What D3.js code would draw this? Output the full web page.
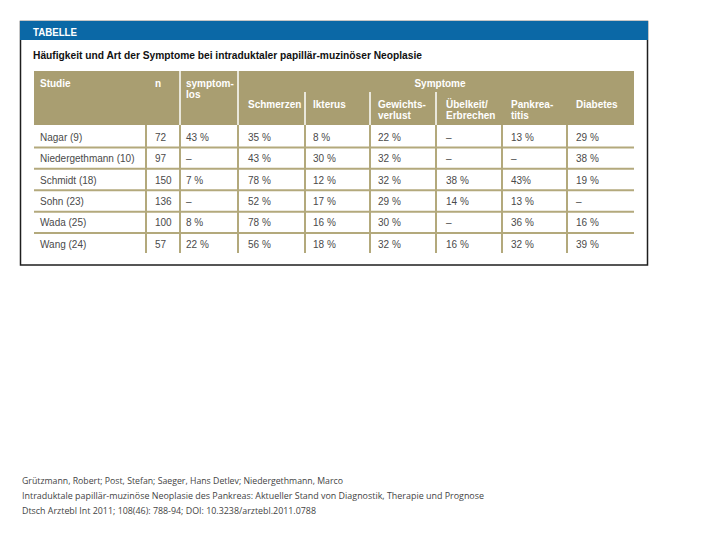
<!DOCTYPE html>
<html><head><meta charset="utf-8">
<script src="https://cdn.jsdelivr.net/npm/d3@7/dist/d3.min.js"></script>
<style>html,body{margin:0;padding:0;background:#fff;}svg{display:block;}</style>
</head><body>
<script>
// ---- data ----
const studies = ["Nagar (9)", "Niedergethmann (10)", "Schmidt (18)", "Sohn (23)", "Wada (25)", "Wang (24)"];
const nValues = [72, 97, 150, 136, 100, 57];
const symptomlos = ["43 %", "–", "7 %", "–", "8 %", "22 %"];
const schmerzen = ["35 %", "43 %", "78 %", "52 %", "78 %", "56 %"];
const ikterus = ["8 %", "30 %", "12 %", "17 %", "16 %", "18 %"];
const gewichtsverlust = ["22 %", "32 %", "32 %", "29 %", "30 %", "32 %"];
const uebelkeit = ["–", "–", "38 %", "14 %", "–", "16 %"];
const pankreatitis = ["13 %", "–", "43%", "13 %", "36 %", "32 %"];
const diabetes = ["29 %", "38 %", "19 %", "–", "16 %", "39 %"];
const symptomHeaders = [["Schmerzen"], ["Ikterus"], ["Gewichts-", "verlust"], ["Übelkeit/", "Erbrechen"], ["Pankrea-", "titis"], ["Diabetes"]];
const labelTabelle = "TABELLE";
const titleText = "Häufigkeit und Art der Symptome bei intraduktaler papillär-muzinöser Neoplasie";
const footerLines = [
  "Grützmann, Robert; Post, Stefan; Saeger, Hans Detlev; Niedergethmann, Marco",
  "Intraduktale papillär-muzinöse Neoplasie des Pankreas: Aktueller Stand von Diagnostik, Therapie und Prognose",
  "Dtsch Arztebl Int 2011; 108(46): 788-94; DOI: 10.3238/arztebl.2011.0788"
];

// ---- layout ----
const W = 720, H = 540;
const blue = "#0b68a6", tan = "#a99e71", lineTan = "#b3a97c", textGrey = "#4a4a4a";
const svg = d3.select("body").append("svg").attr("width", W).attr("height", H);
const font = "'Liberation Sans', Arial, sans-serif";

// outer box
svg.append("rect").attr("x", 20.5).attr("y", 21.5).attr("width", 627).attr("height", 243.5)
  .attr("fill", "#fff").attr("stroke", "#1e1e1e").attr("stroke-width", 1.5);
svg.append("rect").attr("x", 20).attr("y", 21).attr("width", 628).attr("height", 19).attr("fill", blue);
svg.append("text").attr("x", 33).attr("y", 35.5).attr("fill", "#fff")
  .attr("font-family", font).attr("font-weight", "bold").attr("font-size", 11)
  .attr("textLength", 44).attr("lengthAdjust", "spacingAndGlyphs").text(labelTabelle);
svg.append("text").attr("x", 33).attr("y", 59).attr("fill", "#111")
  .attr("font-family", font).attr("font-weight", "bold").attr("font-size", 11)
  .attr("textLength", 389).attr("lengthAdjust", "spacingAndGlyphs").text(titleText);

// columns
const colEdges = [34, 146, 180, 238, 305, 370, 436, 502, 567, 634];
const colText = [40, 155, 186, 248, 313, 378, 446, 511, 576];
const columns = [studies, nValues, symptomlos, schmerzen, ikterus, gewichtsverlust, uebelkeit, pankreatitis, diabetes];

// header
const headTop = 71, headBottom = 125;
svg.append("rect").attr("x", colEdges[0]).attr("y", headTop)
  .attr("width", colEdges[9] - colEdges[0]).attr("height", headBottom - headTop).attr("fill", tan);
const hdr = svg.append("g").attr("font-family", font).attr("font-weight", "bold")
  .attr("font-size", 10).attr("fill", "#fff");
hdr.append("text").attr("x", colText[0]).attr("y", 87).text("Studie");
hdr.append("text").attr("x", colText[1]).attr("y", 87).text("n");
hdr.append("text").attr("x", colText[2]).attr("y", 87).text("symptom-");
hdr.append("text").attr("x", colText[2]).attr("y", 98).text("los");
hdr.append("text").attr("x", (colEdges[3] + colEdges[9]) / 2 + 4).attr("y", 87)
  .attr("text-anchor", "middle").text("Symptome");
symptomHeaders.forEach((lines, i) => {
  lines.forEach((l, j) => {
    hdr.append("text").attr("x", colText[3 + i]).attr("y", 108 + j * 11).text(l);
  });
});
// header separators (white)
[180, 238].forEach(x => svg.append("line").attr("x1", x).attr("x2", x)
  .attr("y1", headTop).attr("y2", headBottom).attr("stroke", "#fff").attr("stroke-width", 1.5));
[305, 370, 436].forEach(x => svg.append("line").attr("x1", x).attr("x2", x)
  .attr("y1", 92).attr("y2", headBottom).attr("stroke", "#fff").attr("stroke-width", 1.5));

// rows
const y = d3.scaleBand().domain(studies).range([headBottom + 1, 254.5]);
const rowLines = studies.slice(1);
svg.append("g").selectAll("line").data(rowLines).join("line")
  .attr("x1", colEdges[0]).attr("x2", colEdges[9])
  .attr("y1", d => y(d)).attr("y2", d => y(d))
  .attr("stroke", lineTan).attr("stroke-width", 2);
svg.append("g").selectAll("line").data(colEdges.slice(1, 9)).join("line")
  .attr("x1", d => d).attr("x2", d => d)
  .attr("y1", headBottom).attr("y2", 253)
  .attr("stroke", lineTan).attr("stroke-width", 2);

const body = svg.append("g").attr("font-family", font).attr("font-size", 10).attr("fill", textGrey);
columns.forEach((col, ci) => {
  body.append("g").selectAll("text").data(col).join("text")
    .attr("x", colText[ci])
    .attr("y", (d, i) => y(studies[i]) + y.bandwidth() / 2 + 4)
    .text(d => d);
});

// footer
const footerWidths = [321, 462, 294];
svg.append("g").attr("font-family", "'Open Sans', 'Liberation Sans', sans-serif").attr("font-size", 8.5)
  .attr("fill", "#444").selectAll("text").data(footerLines).join("text")
  .attr("x", 22).attr("y", (d, i) => 484 + i * 15)
  .attr("textLength", (d, i) => footerWidths[i]).attr("lengthAdjust", "spacingAndGlyphs")
  .text(d => d);
</script>
</body></html>
